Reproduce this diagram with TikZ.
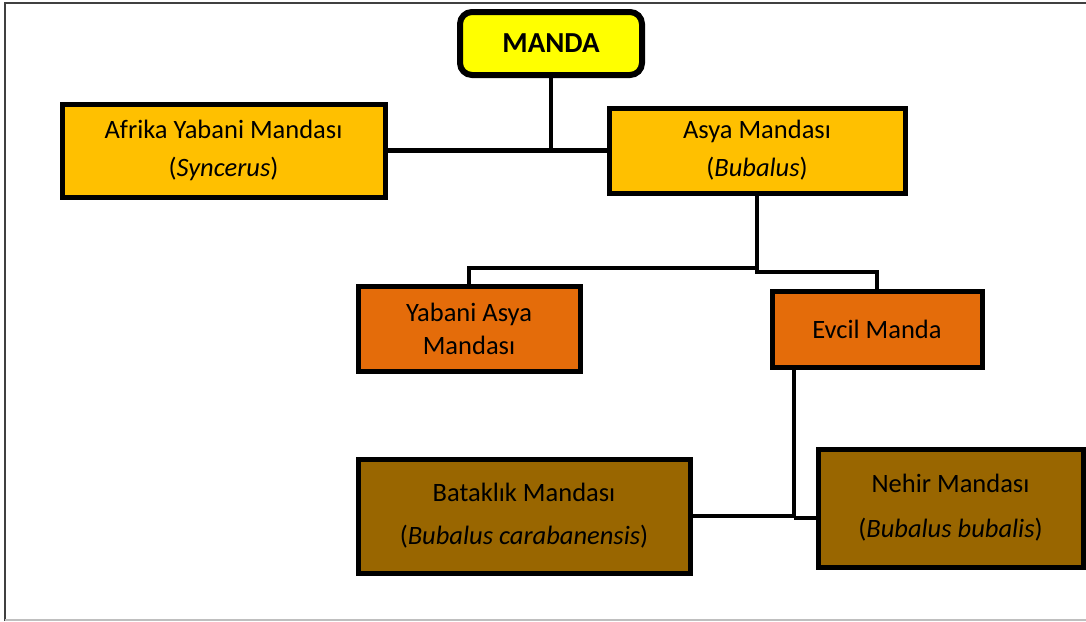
\documentclass[tikz,border=0pt]{standalone}
\usepackage{fontspec}
\setmainfont{Carlito}
\definecolor{cyellow}{HTML}{FFFF00}
\definecolor{cgold}{HTML}{FFC000}
\definecolor{corange}{HTML}{E46C0A}
\definecolor{cbrown}{HTML}{996600}
\begin{document}
\begin{tikzpicture}[x=1pt,y=-1pt,
  box/.style={draw=black, line width=5pt, rectangle, align=center, inner sep=0pt,
    font=\fontsize{26.5}{38}\selectfont},
  conn/.style={draw=black, line width=4.5pt},
  frameD/.style={draw=black!75, line width=2pt},
  frameL/.style={draw=black!25, line width=1.5pt}]
\useasboundingbox (0,0) rectangle (1086,621);
\fill[white] (0,0) rectangle (1086,621);
\draw[frameD] (5,621) -- (5,3) -- (1086,3);
\draw[frameL] (5,620) -- (1086,620);

\node[box, fill=cyellow, rounded corners=12pt, line width=6pt, minimum width=182pt, minimum height=63pt,
  font=\fontsize{29}{32}\bfseries] (manda) at (551,43.5) {MANDA};
\node[box, fill=cgold, minimum width=323pt, minimum height=93pt] (afrika) at (223.5,150.5)
  {Afrika Yabani Mandası\\(\textit{Syncerus})};
\node[box, fill=cgold, minimum width=296pt, minimum height=85pt] (asya) at (757,150.5)
  {Asya Mandası\\(\textit{Bubalus})};
\node[box, fill=corange, minimum width=222pt, minimum height=85pt, font=\fontsize{26.5}{33}\selectfont] (yabani) at (469,328.5)
  {Yabani Asya\\Mandası};
\node[box, fill=corange, minimum width=210pt, minimum height=76pt] (evcil) at (877,329)
  {Evcil Manda};
\node[box, fill=cbrown, minimum width=332pt, minimum height=114pt, font=\fontsize{26.5}{43}\selectfont] (batak) at (524,516)
  {Bataklık Mandası\\(\textit{Bubalus carabanensis})};
\node[box, fill=cbrown, minimum width=265pt, minimum height=118pt, font=\fontsize{26.5}{45}\selectfont] (nehir) at (950.5,508)
  {Nehir Mandası\\(\textit{Bubalus bubalis})};

\coordinate (j0) at (551,151);
\coordinate (j1) at (757,268);
\coordinate (j2) at (757,272);
\coordinate (j3) at (794,516);
\coordinate (j4) at (794,518);

\draw[conn] (manda.south) -- (j0);
\draw[conn] (afrika.east) -- (asya.west);
\draw[conn] (asya.south) -- (j1) -| (yabani.north);
\draw[conn] (j1) -- (j2) -| (evcil.north);
\draw[conn] (evcil.south -| j3) -- (j4);
\draw[conn] (batak.east) -- (j3);
\draw[conn] (nehir.west |- j4) -- (j4);
\end{tikzpicture}
\end{document}
